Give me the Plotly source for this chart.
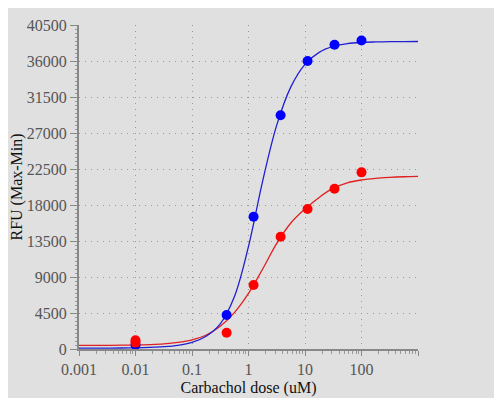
import plotly.graph_objects as go

# Measured doses (uM) and responses
dose = [0.01, 0.41, 1.23, 3.7, 11.1, 33.3, 100]
blue_rfu = [500, 4250, 16540, 29210, 36000, 38040, 38560]
red_dose = [0.01, 0.01, 0.41, 1.23, 3.7, 11.1, 33.3, 100]
red_rfu = [1100, 800, 2040, 8000, 14040, 17500, 20040, 22080]

# Fitted curves (dose grid in uM)
curve_dose = [0.001, 0.00178, 0.00316, 0.00562, 0.01, 0.0178, 0.0316, 0.0562,
              0.1, 0.178, 0.316, 0.562, 1, 1.78, 3.16, 5.62, 10, 17.8, 31.6,
              56.2, 100, 178, 316, 562, 1000]
blue_curve = [100, 105, 112, 125, 150, 200, 290, 463, 825, 1600, 3145, 6540,
              12830, 20990, 27980, 32770, 35580, 37080, 37820, 38170, 38320,
              38380, 38410, 38430, 38440]
red_curve = [450, 455, 462, 475, 500, 550, 640, 820, 1150, 1750, 2850, 4550,
             6950, 10000, 13200, 15750, 17500, 18950, 20100, 20780, 21130,
             21330, 21450, 21530, 21580]

x_tickvals = [0.001, 0.01, 0.1, 1, 10, 100, 1000]
x_ticktext = ["0.001", "0.01", "0.1", "1", "10", "100", ""]
y_tickvals = [0, 4500, 9000, 13500, 18000, 22500, 27000, 31500, 36000, 40500]
y_ticktext = ["0", "4500", "9000", "13500", "18000", "22500", "27000", "31500",
              "36000", "40500"]

font_family = "Liberation Serif, Times New Roman, serif"

# the page body has an 8px margin: the figure starts at (8, 8) in the window
W, H = 494, 390
L, R, T, B = 71, 84, 17, 49
PW, PH = W - L - R, H - T - B

fig = go.Figure()
fig.add_trace(go.Scatter(x=curve_dose, y=red_curve, mode="lines",
                         line=dict(color="#e02020", width=1.3, shape="spline"),
                         showlegend=False, hoverinfo="skip"))
fig.add_trace(go.Scatter(x=curve_dose, y=blue_curve, mode="lines",
                         line=dict(color="#2020d0", width=1.3, shape="spline"),
                         showlegend=False, hoverinfo="skip"))
fig.add_trace(go.Scatter(x=dose, y=blue_rfu, mode="markers",
                         marker=dict(color="#0000ff", size=10),
                         showlegend=False))
fig.add_trace(go.Scatter(x=red_dose, y=red_rfu, mode="markers",
                         marker=dict(color="#ff0000", size=10),
                         showlegend=False))

fig.update_layout(
    width=W, height=H,
    margin=dict(l=L, r=R, t=T, b=B, pad=0, autoexpand=False),
    paper_bgcolor="#e0e0e0", plot_bgcolor="#e0e0e0",
    font=dict(family=font_family, size=16, color="#555555"),
    showlegend=False,
    shapes=[dict(type="rect", xref="paper", yref="paper",
                 x0=(490.5 - L) / PW, x1=(496 - L) / PW,
                 y0=-(B + 10) / PH, y1=(H - B + 10) / PH,
                 line=dict(width=0), fillcolor="#333333")],
)
fig.update_xaxes(
    type="log", range=[-3, 3], automargin=False,
    tickvals=x_tickvals, ticktext=x_ticktext,
    ticks="outside", ticklen=5, tickcolor="#888888",
    showline=True, linecolor="#888888", linewidth=2,
    showgrid=True, gridcolor="#999999", griddash="1px,5px", gridwidth=1,
    zeroline=False,
    minor=dict(ticks="outside", ticklen=3, tickcolor="#999999", dtick="D1", showgrid=False),
    tickfont=dict(family=font_family, size=16, color="#555555"),
    title=dict(text="Carbachol dose (uM)", standoff=5,
               font=dict(family=font_family, size=16, color="#111111")),
)
fig.update_yaxes(
    range=[0, 40500], tickvals=y_tickvals, ticktext=y_ticktext, automargin=False,
    ticks="outside", ticklen=7, tickcolor="#888888",
    showline=True, linecolor="#888888", linewidth=2,
    showgrid=True, gridcolor="#999999", griddash="1px,5px", gridwidth=1,
    zeroline=False,
    minor=dict(ticks="outside", ticklen=2, tickcolor="#999999", dtick=500, showgrid=False),
    tickfont=dict(family=font_family, size=16, color="#555555"),
    title=dict(text="RFU (Max-Min)", standoff=6,
               font=dict(family=font_family, size=16, color="#111111")),
)

fig.write_html("out.html")
